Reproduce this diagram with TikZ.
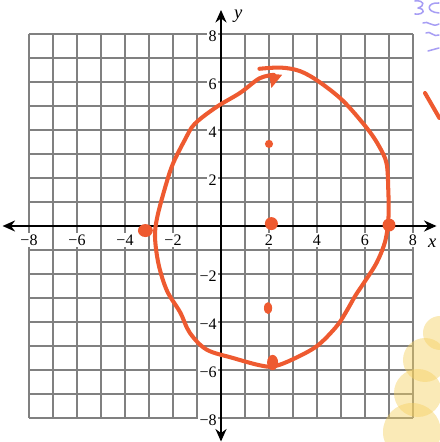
\documentclass[tikz,border=0pt]{standalone}
\usepackage{fontspec}
\setmainfont{Liberation Serif}
\usetikzlibrary{arrows.meta}
\definecolor{penOrange}{HTML}{EE5A30}
\definecolor{gridGray}{HTML}{808080}
\definecolor{hlYellow}{HTML}{F5D060}
\definecolor{inkPurple}{HTML}{A79EF4}
\begin{document}
\begin{tikzpicture}[x=5mm,y=5mm,font=\fontsize{9.5}{11}\selectfont,
  gridl/.style={gridGray,line width=0.8pt},
  ax/.style={{Stealth[length=2.6mm,width=2.3mm]}-{Stealth[length=2.6mm,width=2.3mm]},line width=1.1pt},
  lbl/.style={fill=white,inner sep=1pt},
  pen/.style={penOrange,line width=2.4pt,line cap=round,line join=round},
  dot/.style={fill=penOrange},
  hl/.style={fill=hlYellow,fill opacity=0.45},
  ink/.style={inkPurple,line width=0.9pt,line cap=round,line join=round}]
  \useasboundingbox (-9.2083,-9) rectangle (9.0833,9.4167);
  % grid and ticks
  \draw[gridl] (-8,-8) grid[step=5mm] (8,8);
  \foreach \v/\t in {-8/−8,-6/−6,-4/−4,-2/−2,2/2,4/4,6/6,8/8}{
    \node[lbl,anchor=north] (xl\v) at (\v,-0.28) {\t};
    \node[lbl,anchor=east] (yl\v) at (-0.1,\v-0.1) {\t};}
  \draw[ax] (-9.1,0) -- (8.98,0);
  \draw[ax] (0,-8.98) -- (0,9.0);
  \node[font=\fontsize{11}{12}\selectfont] (xlab) at (8.8,-0.7) {\textit{x}};
  \node[font=\fontsize{11}{12}\selectfont] (ylab) at (0.72,8.75) {\textit{y}};
  % the drawn curve
  \draw[pen] plot[smooth,tension=0.55] coordinates {(1.6,6.55) (2.5,6.6) (3.3,6.45) (4.1,6.0) (5.1,5.2)
    (6.1,4.05) (6.6,3.3) (6.9,2.6) (6.97,1.5) (6.98,0.4) (6.85,-0.6) (6.5,-1.5) (6.0,-2.3) (5.6,-2.9)
    (5.2,-3.6) (4.8,-4.2) (4.0,-5.0) (3.0,-5.55) (2.2,-5.85) (1.6,-5.8) (0.5,-5.5) (-0.6,-5.15)
    (-1.3,-4.45) (-1.7,-3.6) (-2.25,-2.7) (-2.6,-1.6) (-2.75,-0.45) (-2.65,0.4) (-2.3,1.7) (-2.0,2.6)
    (-1.5,3.6) (-1.1,4.25) (-0.2,4.95) (0.8,5.55) (1.6,6.15) (2.2,6.3)};
  \fill[dot] (2.0,6.35) -- (2.55,6.3) -- (2.1,5.75) -- cycle;
  \fill[dot] (2.0,3.42) circle[radius=0.17];
  \fill[dot] (2.1,0.1) circle[radius=0.27];
  \fill[dot] (-3.15,-0.19) ellipse[x radius=0.31,y radius=0.27];
  \fill[dot] (7.0,0.04) circle[radius=0.27];
  \fill[dot] (1.96,-3.42) ellipse[x radius=0.17,y radius=0.25];
  \fill[dot] (2.15,-5.69) ellipse[x radius=0.23,y radius=0.32];
  \draw[pen] (8.5,5.54) -- (9.1,4.5);
  % marks at the page edge
  \begin{scope}[x=0.20833mm,y=-0.20833mm,shift={(-46.042mm,47.083mm)}]
    \fill[hl] (440,333) circle[radius=17];
    \fill[hl] (425,360) circle[radius=22];
    \fill[hl] (418,393) circle[radius=24];
    \fill[hl] (412,432) circle[radius=29];
    \draw[ink] (415,1) .. controls (425,0) and (425,6) .. (418,8) .. controls (426,9) and (425,15) .. (415,14);
    \draw[ink] (439,3) .. controls (427,2) and (425,12) .. (439,13);
    \draw[ink] (423,23) .. controls (428,20) and (432,28) .. (439,24);
    \draw[ink] (426,33) .. controls (430,30) and (434,38) .. (439,35);
    \draw[ink] (428,51) -- (439,48);
  \end{scope}
\end{tikzpicture}
\end{document}
